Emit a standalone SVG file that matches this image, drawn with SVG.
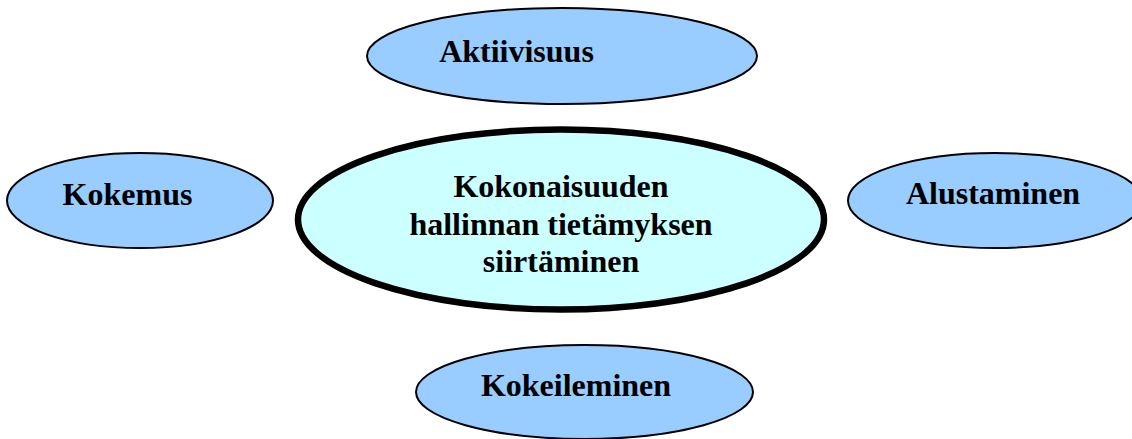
<svg xmlns="http://www.w3.org/2000/svg" width="1132" height="439" viewBox="0 0 1132 439">
  <style>
    .sat { fill: #99CCFF; stroke: #000000; stroke-width: 2; }
    .core { fill: #CCFFFF; stroke: #000000; stroke-width: 6.5; }
    .lbl { font-family: "Liberation Serif", "Times New Roman", serif; font-weight: bold; font-size: 32px; fill: #000000; text-anchor: middle; }
  </style>
  <rect x="0" y="0" width="1132" height="439" fill="#FFFFFF"/>
  <g id="connectors"></g>
  <g id="node-aktiivisuus">
    <ellipse class="sat" cx="562" cy="56" rx="195" ry="48"/>
    <text class="lbl" x="516.5" y="62">Aktiivisuus</text>
  </g>
  <g id="node-kokemus">
    <ellipse class="sat" cx="140" cy="200.5" rx="133" ry="47.5"/>
    <text class="lbl" x="127.5" y="205">Kokemus</text>
  </g>
  <g id="node-center">
    <ellipse class="core" cx="561" cy="219.5" rx="263" ry="90"/>
    <text class="lbl" x="561" y="197">Kokonaisuuden</text>
    <text class="lbl" x="561" y="235">hallinnan tietämyksen</text>
    <text class="lbl" x="561" y="272">siirtäminen</text>
  </g>
  <g id="node-alustaminen">
    <ellipse class="sat" cx="995" cy="200.5" rx="147" ry="47.5"/>
    <text class="lbl" x="993" y="204">Alustaminen</text>
  </g>
  <g id="node-kokeileminen">
    <ellipse class="sat" cx="584.5" cy="392" rx="168.5" ry="47"/>
    <text class="lbl" x="576" y="396">Kokeileminen</text>
  </g>
</svg>
